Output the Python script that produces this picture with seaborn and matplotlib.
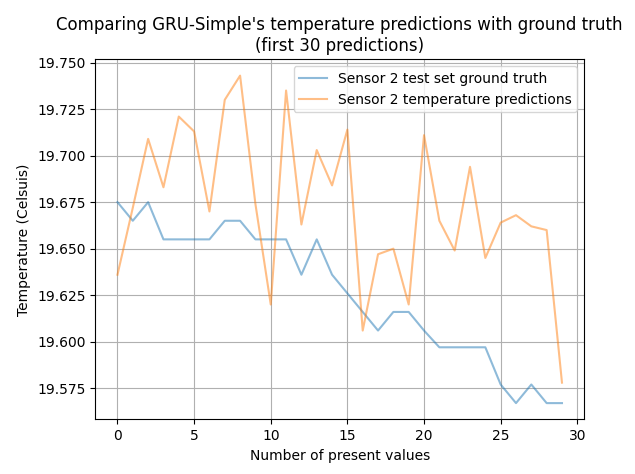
import numpy as np
import pandas as pd
import seaborn as sns
import matplotlib
matplotlib.use("Agg")
import matplotlib.pyplot as plt

# first 30 predictions
steps = list(range(30))
ground_truth = [19.675, 19.665, 19.675, 19.655, 19.655, 19.655, 19.655, 19.665, 19.665, 19.655,
                19.655, 19.655, 19.636, 19.655, 19.636, 19.626, 19.616, 19.606, 19.616, 19.616,
                19.606, 19.597, 19.597, 19.597, 19.597, 19.577, 19.567, 19.577, 19.567, 19.567]
predictions = [19.636, 19.672, 19.709, 19.683, 19.721, 19.713, 19.670, 19.730, 19.743, 19.674,
               19.620, 19.735, 19.663, 19.703, 19.684, 19.714, 19.606, 19.647, 19.650, 19.620,
               19.711, 19.665, 19.649, 19.694, 19.645, 19.664, 19.668, 19.662, 19.660, 19.578]

df = pd.DataFrame({"step": steps, "truth": ground_truth, "pred": predictions})

fig, ax = plt.subplots(figsize=(6.35, 4.74), dpi=100)
sns.lineplot(data=df, x="step", y="truth", ax=ax, color="#1f77b4", alpha=0.5,
             label="Sensor 2 test set ground truth")
sns.lineplot(data=df, x="step", y="pred", ax=ax, color="#ff7f0e", alpha=0.5,
             label="Sensor 2 temperature predictions")

ax.grid(True)
ax.set_xticks([0, 5, 10, 15, 20, 25, 30])
ax.yaxis.set_major_formatter(matplotlib.ticker.FormatStrFormatter("%.3f"))
ax.set_xlabel("Number of present values")
ax.set_ylabel("Temperature (Celsuis)")
ax.set_title("Comparing GRU-Simple's temperature predictions with ground truth\n(first 30 predictions)")
ax.legend(loc="upper right")

plt.subplots_adjust(left=0.15, right=0.92, top=0.875, bottom=0.115)
plt.savefig("out.png")
